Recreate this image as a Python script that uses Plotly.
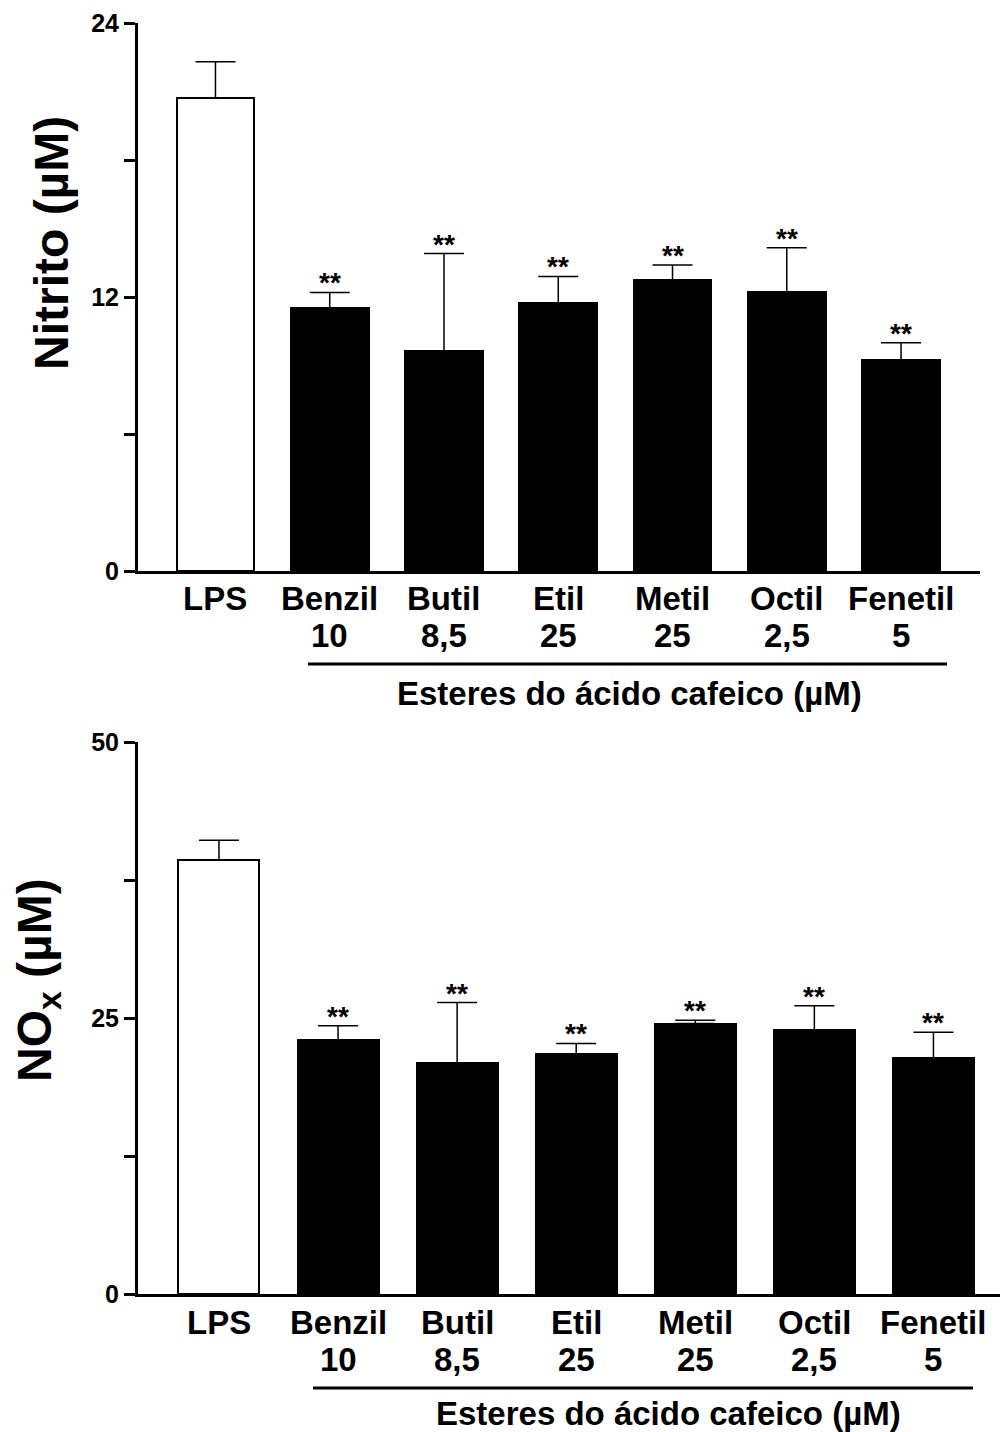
import plotly.graph_objects as go

# Treatments and concentrations (µM)
names = ["LPS", "Benzil", "Butil", "Etil", "Metil", "Octil", "Fenetil"]
doses = ["", "10", "8,5", "25", "25", "2,5", "5"]

# Nitrite (µM): mean and mean + SEM
nitrito_mean = [20.7, 11.52, 9.62, 11.72, 12.73, 12.2, 9.23]
nitrito_top = [22.3, 12.2, 13.9, 12.9, 13.4, 14.16, 10.0]

# NOx (µM): mean and mean + SEM
nox_mean = [39.3, 23.0, 20.9, 21.7, 24.5, 23.9, 21.4]
nox_top = [41.1, 24.3, 26.4, 22.7, 24.8, 26.1, 23.7]

signif = ["", "**", "**", "**", "**", "**", "**"]

# Y-axis ticks (unlabelled minor ticks in between)
nitrito_ticks = [0, 6, 12, 18, 24]
nitrito_ticktext = ["0", "", "12", "", "24"]
nox_ticks = [0, 12.5, 25, 37.5, 50]
nox_ticktext = ["0", "", "25", "", "50"]

W, H = 1001, 1432
FONT = "Arial, Liberation Sans, Helvetica, sans-serif"


def fx(px):
    return px / W


def fy(py):
    return 1 - py / H


def bold(s):
    return f"<b>{s}</b>" if s else " "


fills = ["white"] + ["black"] * (len(names) - 1)
xs = list(range(len(names)))

fig = go.Figure()

panels = [
    dict(mean=nitrito_mean, top=nitrito_top, xa="x", ya="y"),
    dict(mean=nox_mean, top=nox_top, xa="x2", ya="y2"),
]

for p in panels:
    fig.add_trace(go.Bar(
        x=xs, y=p["mean"], width=0.68,
        marker=dict(color=fills, line=dict(color="black", width=2)),
        error_y=dict(type="data", symmetric=False,
                     array=[t - m for t, m in zip(p["top"], p["mean"])],
                     arrayminus=[0] * len(xs),
                     color="black", thickness=1.5, width=20),
        xaxis=p["xa"], yaxis=p["ya"], showlegend=False, hoverinfo="skip",
    ))

axis_common = dict(showgrid=False, zeroline=False, showline=True,
                   linecolor="black", linewidth=3, automargin=False)
ytick_common = dict(ticks="outside", ticklen=11, tickwidth=3, tickcolor="black",
                    tickfont=dict(size=25, family=FONT, color="black"))

fig.update_layout(
    width=W, height=H, margin=dict(l=0, r=0, t=0, b=0, autoexpand=False),
    paper_bgcolor="white", plot_bgcolor="white",
    font=dict(family=FONT, color="black"),
    bargap=0,
    xaxis=dict(domain=[fx(138), fx(980)], range=[-0.678, 6.691],
               showticklabels=False, ticks="", anchor="y", **axis_common),
    yaxis=dict(domain=[fy(571), fy(23)], range=[0, 24],
               tickvals=nitrito_ticks, ticktext=[bold(t) for t in nitrito_ticktext],
               anchor="x", **ytick_common, **axis_common),
    xaxis2=dict(domain=[fx(138), fx(1000)], range=[-0.680, 6.559],
                showticklabels=False, ticks="", anchor="y2", **axis_common),
    yaxis2=dict(domain=[fy(1294), fy(742)], range=[0, 50],
                tickvals=nox_ticks, ticktext=[bold(t) for t in nox_ticktext],
                anchor="x2", **ytick_common, **axis_common),
)

ann = []
label_font = dict(size=33, family=FONT, color="black")

for p, axis_px in ((panels[0], 571), (panels[1], 1294)):
    for i, (n, d) in enumerate(zip(names, doses)):
        ann.append(dict(x=i, y=fy(axis_px + 28), xref=p["xa"], yref="paper",
                        text=bold(n), showarrow=False, font=label_font,
                        xanchor="center", yanchor="middle"))
        if d:
            ann.append(dict(x=i, y=fy(axis_px + 65), xref=p["xa"], yref="paper",
                            text=bold(d), showarrow=False, font=label_font,
                            xanchor="center", yanchor="middle"))
        if signif[i]:
            ann.append(dict(x=i, y=p["top"][i], xref=p["xa"], yref=p["ya"],
                            text=bold(signif[i]), showarrow=False,
                            font=dict(size=28, family=FONT, color="black"),
                            xanchor="center", yanchor="bottom", yshift=-8))

# Axis titles
ann.append(dict(x=fx(52), y=fy(243), xref="paper", yref="paper",
                text="<b>Nitrito (µM)</b>", textangle=-90, showarrow=False,
                font=dict(size=48, family=FONT, color="black"),
                xanchor="center", yanchor="middle"))
ann.append(dict(x=fx(38), y=fy(980), xref="paper", yref="paper",
                text="<b>NO<sub>x</sub> (µM)</b>", textangle=-90, showarrow=False,
                font=dict(size=48, family=FONT, color="black"),
                xanchor="center", yanchor="middle"))

# Group titles under the bracket lines
ann.append(dict(x=fx(629), y=fy(693), xref="paper", yref="paper",
                text="<b>Esteres do ácido cafeico (µM)</b>", showarrow=False,
                font=label_font, xanchor="center", yanchor="middle"))
ann.append(dict(x=fx(668), y=fy(1413), xref="paper", yref="paper",
                text="<b>Esteres do ácido cafeico (µM)</b>", showarrow=False,
                font=label_font, xanchor="center", yanchor="middle"))

shapes = [
    dict(type="line", xref="paper", yref="paper",
         x0=fx(308), x1=fx(947), y0=fy(664), y1=fy(664),
         line=dict(color="black", width=3)),
    dict(type="line", xref="paper", yref="paper",
         x0=fx(313), x1=fx(973), y0=fy(1388), y1=fy(1388),
         line=dict(color="black", width=3)),
]

fig.update_layout(annotations=ann, shapes=shapes)

fig.write_html("out.html")
